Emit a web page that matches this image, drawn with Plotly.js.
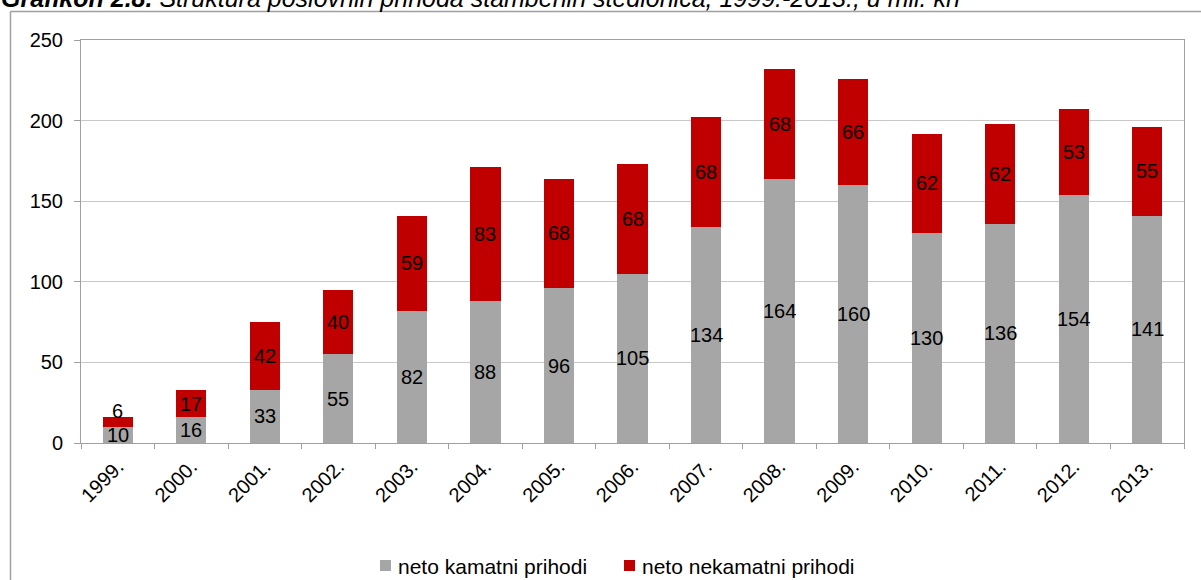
<!DOCTYPE html>
<html><head><meta charset="utf-8">
<script src="https://cdn.plot.ly/plotly-3.0.1.min.js"></script>
<style>html,body{margin:0;padding:0;background:#fff;}</style>
</head><body>
<div id="chart" style="width:1201px;height:580px;"></div>
<script>
const years = ["1999.","2000.","2001.","2002.","2003.","2004.","2005.","2006.","2007.","2008.","2009.","2010.","2011.","2012.","2013."];
const kamatni = [10,16,33,55,82,88,96,105,134,164,160,130,136,154,141];
const nekamatni = [6,17,42,40,59,83,68,68,68,68,66,62,62,53,55];
const seriesNames = ["neto kamatni prihodi","neto nekamatni prihodi"];
const seriesColors = ["#a6a6a6","#c00000"];
const titleBold = "Grafikon 2.8.";
const titleRest = " Struktura poslovnih prihoda stambenih štedionica, 1999.-2013., u mil. kn";

const font = "Liberation Sans, Arial, sans-serif";
const annotations = [];
years.forEach((y,i)=>{
  annotations.push({x:i, y:kamatni[i]/2, xref:'x', yref:'y', text:String(kamatni[i]), showarrow:false, font:{family:font,size:20,color:'#000'}});
  const small = nekamatni[i] < 10;
  annotations.push({x:i, y:kamatni[i]+nekamatni[i]/2, xref:'x', yref:'y', text:String(nekamatni[i]), showarrow:false, yshift: small?11:0, font:{family:font,size:20,color:'#000'}});
});
annotations.push({x:-0.0745, y:1.0645, xref:'paper', yref:'paper', xanchor:'left', yanchor:'bottom', showarrow:false,
  text:'<b><i>'+titleBold+'</i></b><i>'+titleRest+'</i>', font:{family:font,size:25,color:'#000'}});

// custom legend (positions in paper fractions of the plot area)
const plotL = 81, plotW = 1103, plotT = 40, plotH = 403;
const px2x = p => (p - plotL) / plotW;
const py2y = p => (plotT + plotH - p) / plotH;
const legendSquareX = [380, 624];
const shapes = [
  {type:'line', xref:'paper', yref:'paper', x0:px2x(10.5), x1:1.2, y0:py2y(11.5), y1:py2y(11.5), line:{color:'#a0a0a0', width:1.5}},
  {type:'line', xref:'paper', yref:'paper', x0:px2x(10.5), x1:px2x(10.5), y0:py2y(11.5), y1:-0.5, line:{color:'#a0a0a0', width:1.5}}
];
seriesNames.forEach((n,k)=>{
  shapes.push({type:'rect', xref:'paper', yref:'paper', x0:px2x(legendSquareX[k]), x1:px2x(legendSquareX[k]+11), y0:py2y(571), y1:py2y(560), fillcolor:seriesColors[k], line:{width:0}});
  annotations.push({x:px2x(legendSquareX[k]+16), y:py2y(566), xref:'paper', yref:'paper', xanchor:'left', yanchor:'middle', showarrow:false, text:n, font:{family:font,size:21,color:'#000'}});
});

const data = [
  {type:'bar', x:years, y:kamatni, name:seriesNames[0], marker:{color:seriesColors[0]}, hoverinfo:'none'},
  {type:'bar', x:years, y:nekamatni, name:seriesNames[1], marker:{color:seriesColors[1]}, hoverinfo:'none'}
];
const layout = {
  width:1201, height:580,
  margin:{l:plotL, r:1201-plotL-plotW, t:plotT, b:580-plotT-plotH},
  barmode:'stack', bargap:0.59,
  paper_bgcolor:'#fff', plot_bgcolor:'#fff',
  font:{family:font, size:20, color:'#000'},
  showlegend:false,
  xaxis:{type:'category', tickangle:-45, showline:true, linecolor:'#a0a0a0', mirror:true, ticks:'outside', tickson:'boundaries', ticklen:5, tickcolor:'#a0a0a0', showgrid:false, tickfont:{family:font,size:20}, ticklabelstandoff:3},
  yaxis:{range:[0,250], dtick:50, showline:true, linecolor:'#a0a0a0', mirror:true, ticks:'outside', ticklen:6, tickcolor:'#a0a0a0', gridcolor:'#c8c8c8', zeroline:false, tickfont:{family:font,size:20}, ticklabelstandoff:7},
  annotations: annotations,
  shapes: shapes
};
Plotly.newPlot('chart', data, layout, {staticPlot:true, displayModeBar:false});
</script>
</body></html>
